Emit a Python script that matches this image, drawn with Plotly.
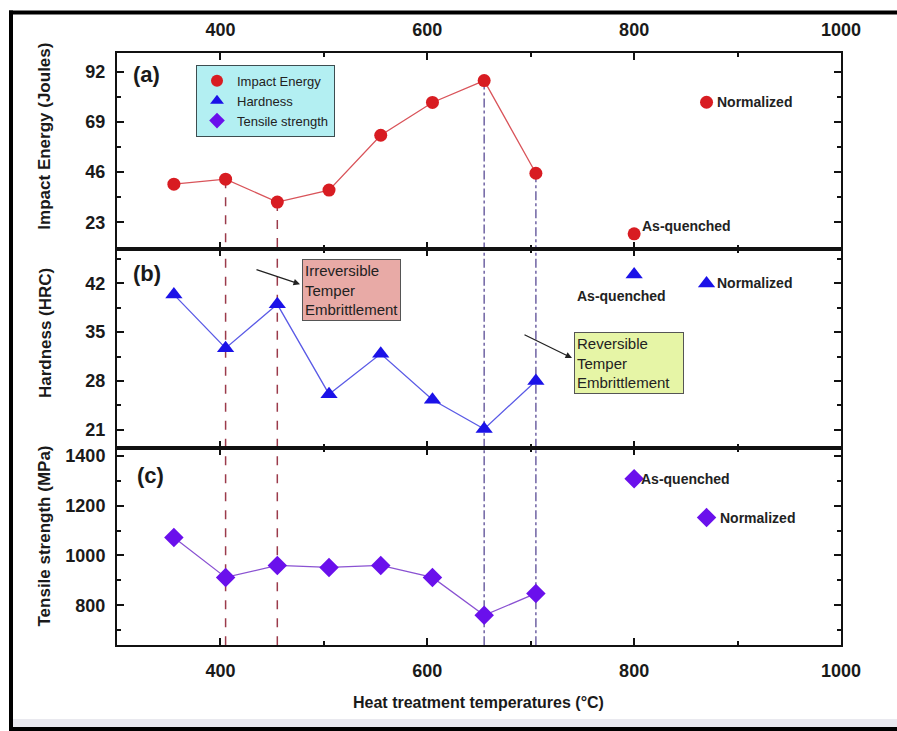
import plotly.graph_objects as go

# ---------------- data ----------------
temps = [355, 405, 455, 505, 555, 605, 655, 705]
impact_energy = [40.5, 42.8, 32.3, 37.8, 62.9, 77.9, 87.9, 45.5]
hardness = [40.4, 32.7, 39.0, 26.1, 31.9, 25.3, 21.1, 28.0]
tensile = [1072, 912, 960, 952, 960, 912, 760, 848]

aq_temp = [800]
norm_temp = [870]
aq_impact = [17.8]
norm_impact = [78.0]
aq_hard = [43.3]
norm_hard = [42.0]
aq_tensile = [1308]
norm_tensile = [1152]

irreversible_temps = [405, 455]
reversible_temps = [655, 705]

x_ticks = [400, 600, 800, 1000]
impact_ticks = [23, 46, 69, 92]
hard_ticks = [21, 28, 35, 42]
tensile_ticks = [800, 1000, 1200, 1400]

# ---------------- geometry helpers ----------------
# the page renders the plot paper over the left 877 px of the 897 px window
W, H = 877, 731
def px(x):
    return x / W
def py(y):
    return 1 - y / H

FONT = "Liberation Sans"
RED, BLUE, PURPLE = "#d81c22", "#1b12e8", "#6a10ec"
RED_L, BLUE_L, PURPLE_L = "#d9545a", "#5b5be6", "#8a52d2"

x_range = [300, 1000]
a_range = [10.7, 100.6]
b_range = [18.4, 46.9]
c_range = [640, 1432]

dom_x = [px(117), px(841)]
dom_a = [py(248), py(51)]
dom_b = [py(447), py(248)]
dom_c = [py(645), py(447)]

fig = go.Figure()

# panel a (x, y)
fig.add_trace(go.Scatter(x=temps, y=impact_energy, mode="lines+markers",
                         line=dict(color=RED_L, width=1.3),
                         marker=dict(symbol="circle", size=13, color=RED),
                         xaxis="x", yaxis="y", showlegend=False))
fig.add_trace(go.Scatter(x=aq_temp + norm_temp, y=aq_impact + norm_impact, mode="markers",
                         marker=dict(symbol="circle", size=13, color=RED),
                         xaxis="x", yaxis="y", showlegend=False))
# panel b (x2, y2)
fig.add_trace(go.Scatter(x=temps, y=hardness, mode="lines+markers",
                         line=dict(color=BLUE_L, width=1.3),
                         marker=dict(symbol="triangle-up", size=15, color=BLUE),
                         xaxis="x2", yaxis="y2", showlegend=False))
fig.add_trace(go.Scatter(x=aq_temp + norm_temp, y=aq_hard + norm_hard, mode="markers",
                         marker=dict(symbol="triangle-up", size=15, color=BLUE),
                         xaxis="x2", yaxis="y2", showlegend=False))
# panel c (x3, y3)
fig.add_trace(go.Scatter(x=temps, y=tensile, mode="lines+markers",
                         line=dict(color=PURPLE_L, width=1.3),
                         marker=dict(symbol="diamond", size=15, color=PURPLE),
                         xaxis="x3", yaxis="y3", showlegend=False))
fig.add_trace(go.Scatter(x=aq_temp + norm_temp, y=aq_tensile + norm_tensile, mode="markers",
                         marker=dict(symbol="diamond", size=15, color=PURPLE),
                         xaxis="x3", yaxis="y3", showlegend=False))

# legend-only entries
for name, sym, col in [("Impact Energy", "circle", RED),
                       ("Hardness", "triangle-up", BLUE),
                       ("Tensile strength", "diamond", PURPLE)]:
    fig.add_trace(go.Scatter(x=[None], y=[None], mode="markers", name=name,
                             marker=dict(symbol=sym, size=12, color=col),
                             xaxis="x", yaxis="y"))

tickfont = dict(family=FONT, size=18, color="#1a1a1a", weight="bold")

def xaxis_cfg(anchor, side, labels, match=None):
    d = dict(domain=dom_x, range=x_range, anchor=anchor, side=side,
             tickvals=x_ticks, showticklabels=labels, ticks="inside", ticklen=7,
             tickwidth=2, tickcolor="#111", showline=True, linecolor="#111",
             linewidth=2, mirror="allticks", showgrid=False, zeroline=False,
             tickfont=tickfont, ticklabelstandoff=8,
             minor=dict(ticks="inside", ticklen=4, tickwidth=2, tickcolor="#111",
                        tickvals=[500, 700, 900], showgrid=False))
    if match:
        d["matches"] = match
    return d

def yaxis_cfg(anchor, dom, rng, ticks, minor_vals):
    return dict(domain=dom, range=rng, anchor=anchor, tickvals=ticks,
                ticks="inside", ticklen=7, tickwidth=2, tickcolor="#111",
                showline=True, linecolor="#111", linewidth=2, mirror="allticks",
                showgrid=False, zeroline=False, tickfont=tickfont,
                ticklabelstandoff=6,
                minor=dict(ticks="inside", ticklen=4, tickwidth=2, tickcolor="#111",
                           tickvals=minor_vals, showgrid=False))

fig.update_layout(
    height=H, autosize=True,
    margin=dict(l=0, r=0, t=0, b=0),
    paper_bgcolor="white", plot_bgcolor="white",
    font=dict(family=FONT, color="#1a1a1a"),
    xaxis=xaxis_cfg("y", "top", True),
    xaxis2=xaxis_cfg("y2", "bottom", False, "x"),
    xaxis3=xaxis_cfg("y3", "bottom", True, "x"),
    yaxis=yaxis_cfg("x", dom_a, a_range, impact_ticks, [11.5, 34.5, 57.5, 80.5]),
    yaxis2=yaxis_cfg("x2", dom_b, b_range, hard_ticks, [24.5, 31.5, 38.5, 45.5]),
    yaxis3=yaxis_cfg("x3", dom_c, c_range, tensile_ticks, [700, 900, 1100, 1300]),
    legend=dict(x=px(196), y=py(63), xanchor="left", yanchor="top",
                bgcolor="#b3eff2", bordercolor="#3d4d50", borderwidth=1,
                font=dict(family=FONT, size=13, color="#222"),
                itemsizing="constant", tracegroupgap=0),
)

shapes = []
# vertical guide lines spanning the three panels
for temps_set, col, dash in [(irreversible_temps, "#9b3b4b", "dash"),
                             (reversible_temps, "#6f63a3", "dashdot")]:
    for t in temps_set:
        v = impact_energy[temps.index(t)]
        ln = dict(color=col, width=1.5, dash=dash)
        shapes.append(dict(type="line", xref="x", yref="y", x0=t, x1=t,
                           y0=v, y1=a_range[0], line=ln, layer="below"))
        shapes.append(dict(type="line", xref="x2", yref="y2 domain", x0=t, x1=t,
                           y0=0, y1=1, line=ln, layer="below"))
        shapes.append(dict(type="line", xref="x3", yref="y3 domain", x0=t, x1=t,
                           y0=0, y1=1, line=ln, layer="below"))

# outer frame (top, left, bottom edges) and bottom strip
shapes.append(dict(type="rect", xref="paper", yref="paper",
                   x0=px(13), x1=px(897), y0=py(727), y1=py(719),
                   fillcolor="#e9e9ef", line=dict(width=0), layer="below"))
frame = dict(color="black", width=4)
shapes.append(dict(type="line", xref="paper", yref="paper",
                   x0=px(9), x1=px(897), y0=py(10.5), y1=py(10.5), line=frame))
shapes.append(dict(type="line", xref="paper", yref="paper",
                   x0=px(9), x1=px(897), y0=py(729), y1=py(729), line=frame))
shapes.append(dict(type="line", xref="paper", yref="paper",
                   x0=px(11), x1=px(11), y0=py(8.5), y1=py(731), line=frame))
fig.update_layout(shapes=shapes)

ann = []
lab = dict(family=FONT, size=14, color="#222", weight="bold")
# state labels anchored to their points
ann.append(dict(x=norm_temp[0], y=norm_impact[0], xref="x", yref="y", text="Normalized",
                showarrow=False, xanchor="left", xshift=8, font=lab))
ann.append(dict(x=aq_temp[0], y=aq_impact[0], xref="x", yref="y", text="As-quenched",
                showarrow=False, xanchor="left", xshift=6, yshift=8, font=lab))
ann.append(dict(x=norm_temp[0], y=norm_hard[0], xref="x2", yref="y2", text="Normalized",
                showarrow=False, xanchor="left", xshift=8, font=lab))
ann.append(dict(x=aq_temp[0], y=aq_hard[0], xref="x2", yref="y2", text="As-quenched",
                showarrow=False, xanchor="center", xshift=-13, yshift=-22, font=lab))
ann.append(dict(x=aq_temp[0], y=aq_tensile[0], xref="x3", yref="y3", text="As-quenched",
                showarrow=False, xanchor="left", xshift=5, font=lab))
ann.append(dict(x=norm_temp[0], y=norm_tensile[0], xref="x3", yref="y3", text="Normalized",
                showarrow=False, xanchor="left", xshift=11, font=lab))

# panel letters
pfont = dict(family=FONT, size=22, color="#1a1a1a", weight="bold")
for txt, yy in [("(a)", 73), ("(b)", 272), ("(c)", 475)]:
    ann.append(dict(x=px(131 if txt != "(c)" else 135), y=py(yy), xref="paper", yref="paper",
                    text=txt, showarrow=False, xanchor="left", yanchor="middle", font=pfont))

# axis titles
tfont = dict(family=FONT, size=17, color="#1a1a1a", weight="bold")
for txt, yy in [("Impact Energy (Joules)", 135), ("Hardness (HRC)", 332),
                ("Tensile strength (MPa)", 536)]:
    ann.append(dict(x=px(45), y=py(yy), xref="paper", yref="paper", text=txt,
                    textangle=-90, showarrow=False, xanchor="center", yanchor="middle",
                    font=tfont))
ann.append(dict(x=px(478), y=py(702), xref="paper", yref="paper",
                text="Heat treatment temperatures (°C)", showarrow=False,
                xanchor="center", yanchor="middle",
                font=dict(family=FONT, size=16, color="#1a1a1a", weight="bold")))

# embrittlement boxes
bfont = dict(family=FONT, size=15, color="#222")
ann.append(dict(x=px(302), y=py(258), xref="paper", yref="paper",
                text="Irreversible<br>Temper<br>Embrittlement", align="left",
                showarrow=False, xanchor="left", yanchor="top",
                bgcolor="#e8aaa6", bordercolor="#555", borderwidth=1, borderpad=2,
                font=bfont))
ann.append(dict(x=px(574), y=py(331), xref="paper", yref="paper",
                text="Reversible<br>Temper<br>Embrittlement", align="left",
                showarrow=False, xanchor="left", yanchor="top",
                bgcolor="#e6f5a6", bordercolor="#555", borderwidth=1, borderpad=2,
                width=104, font=bfont))
# arrows
ann.append(dict(x=px(300), y=py(283), xref="paper", yref="paper", text="",
                showarrow=True, ax=255 - 300, ay=268 - 283, arrowhead=2,
                arrowsize=1, arrowwidth=1.3, arrowcolor="#222"))
ann.append(dict(x=px(572), y=py(357), xref="paper", yref="paper", text="",
                showarrow=True, ax=523 - 572, ay=333 - 357, arrowhead=2,
                arrowsize=1, arrowwidth=1.3, arrowcolor="#222"))

fig.update_layout(annotations=ann)
fig.write_html(
    "out.html",
    config={"displayModeBar": False, "responsive": True},
    default_width="100%",
    post_script="document.body.style.margin='0';document.body.style.overflow='hidden';"
                "document.documentElement.style.overflow='hidden';"
                "Plotly.Plots.resize(document.getElementById('{plot_id}'));",
)
